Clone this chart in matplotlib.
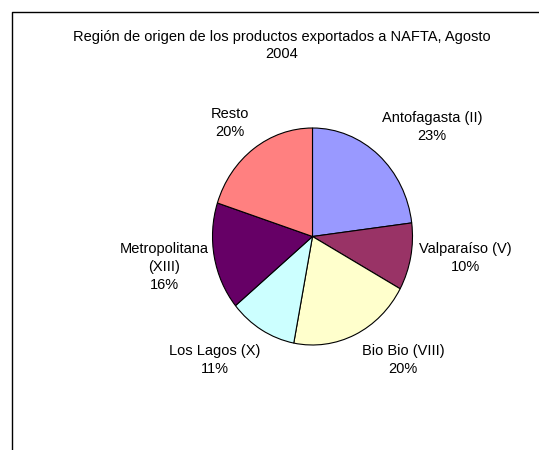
import matplotlib.pyplot as plt
from matplotlib.lines import Line2D

plt.rcParams["font.family"] = ["Liberation Sans", "DejaVu Sans"]

regiones = ["Antofagasta (II)", "Valparaíso (V)", "Bio Bio (VIII)",
            "Los Lagos (X)", "Metropolitana\n(XIII)", "Resto"]
porcentajes = [23, 10, 20, 11, 16, 20]
colores = ["#9999FF", "#993366", "#FFFFCC", "#CCFFFF", "#660066", "#FF8080"]

# label block centres, in pie units (x radius 100 px, y radius 108.5 px)
label_xy = [(1.195, 1.009), (1.525, -0.198), (0.905, -1.138),
            (-0.975, -1.138), (-1.485, -0.281), (-0.825, 1.046)]

W, H = 539, 450
cx, cy, rx, ry = 312.5, 236.5, 100, 108.5

fig = plt.figure(figsize=(W / 100, H / 100), dpi=100)
ax = fig.add_axes([0, 0, 1, 1])

ax.pie(porcentajes, colors=colores, startangle=90, counterclock=False,
       wedgeprops=dict(edgecolor="black", linewidth=0.8))
ax.set_aspect("auto")
ax.set_xlim(-cx / rx, (W - cx) / rx)
ax.set_ylim(-(H - cy) / ry, cy / ry)
ax.axis("off")

for nombre, pct, (x, y) in zip(regiones, porcentajes, label_xy):
    ax.text(x, y, f"{nombre}\n{pct}%", ha="center", va="center",
            multialignment="center", fontsize=10.5, linespacing=1.35)

fig.text(281.5 / W, 1 - 45.5 / H,
         "Región de origen de los productos exportados a NAFTA, Agosto\n2004",
         ha="center", va="center", multialignment="center",
         fontsize=10.5, linespacing=1.35)

# chart frame (only left and top edges are visible in the crop)
fig.add_artist(Line2D([12 / W, 12 / W, 1], [0, 1 - 12 / H, 1 - 12 / H],
                      transform=fig.transFigure, color="black", linewidth=1))

fig.savefig("out.png", dpi=100)
